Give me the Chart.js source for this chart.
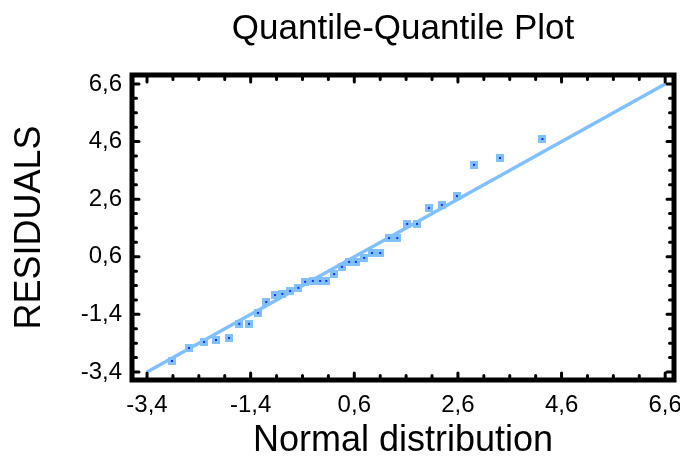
<!DOCTYPE html>
<html>
<head>
<meta charset="utf-8">
<script src="https://cdn.jsdelivr.net/npm/chart.js@4"></script>
<style>
  html, body { margin: 0; padding: 0; background: #fff; }
</style>
</head>
<body>
<canvas id="qqChart" width="680" height="459"></canvas>
<script>
// normal quantiles (x) and ordered residuals (y)
const normalQuantiles = [-2.92, -2.59, -2.30, -2.07, -1.82, -1.62, -1.43, -1.26, -1.10, -0.93,
  -0.79, -0.64, -0.48, -0.35, -0.20, -0.06, 0.06, 0.21, 0.36, 0.50,
  0.63, 0.79, 0.94, 1.10, 1.27, 1.43, 1.62, 1.81, 2.04, 2.29,
  2.58, 2.91, 3.41, 4.23];
const residuals = [-3.02, -2.57, -2.36, -2.29, -2.22, -1.73, -1.73, -1.35, -0.97, -0.73,
  -0.69, -0.59, -0.48, -0.27, -0.24, -0.24, -0.24, 0.00, 0.25, 0.42,
  0.42, 0.56, 0.73, 0.73, 1.25, 1.25, 1.74, 1.74, 2.29, 2.40,
  2.71, 3.79, 4.03, 4.69];
const refLine = [-3.4, 6.6];
const xTicks = [-3.4, -1.4, 0.6, 2.6, 4.6, 6.6];
const yTicks = [-3.4, -1.4, 0.6, 2.6, 4.6, 6.6];

const FONT = "'Liberation Sans', Arial, Helvetica, sans-serif";

function markerImage() {
  const c = document.createElement("canvas");
  c.width = 8;
  c.height = 8;
  const g = c.getContext("2d");
  g.fillStyle = "#80c0ff";
  g.fillRect(0, 0, 8, 8);
  g.fillStyle = "#1030ff";
  g.fillRect(3, 3, 2, 2);
  return c;
}

function fmt(v) {
  return (Math.round(v * 10) / 10).toFixed(1).replace(".", ",");
}

// thick frame with small inward tick marks on all four sides
const framePlugin = {
  id: "frame",
  afterDatasetsDraw(chart) {
    const { ctx, chartArea: a, scales } = chart;
    ctx.save();
    ctx.strokeStyle = "#000";
    ctx.lineWidth = 5;
    ctx.strokeRect(a.left, a.top, a.right - a.left, a.bottom - a.top);
    ctx.lineWidth = 3;
    ctx.lineCap = "round";
    for (let k = 0; k <= 20; k++) {
      const v = -3.4 + k * 0.5;
      const len = k % 4 === 0 ? 7 : 4.5;
      const px = scales.x.getPixelForValue(v);
      const py = scales.y.getPixelForValue(v);
      ctx.beginPath();
      ctx.moveTo(px, a.bottom); ctx.lineTo(px, a.bottom - len);
      ctx.moveTo(px, a.top); ctx.lineTo(px, a.top + len);
      ctx.moveTo(a.left, py); ctx.lineTo(a.left + len, py);
      ctx.moveTo(a.right, py); ctx.lineTo(a.right - len, py);
      ctx.stroke();
    }
    ctx.restore();
  },
};

const ctx = document.getElementById("qqChart").getContext("2d");

new Chart(ctx, {
  type: "scatter",
  data: {
    datasets: [
      {
        label: "Residuals",
        data: normalQuantiles.map((x, i) => ({ x: x, y: residuals[i] })),
        pointStyle: markerImage(),
        pointRadius: 4,
        order: 1,
      },
      {
        label: "Reference",
        data: refLine.map((v) => ({ x: v, y: v })),
        showLine: true,
        borderColor: "#80c0ff",
        borderWidth: 3.5,
        pointRadius: 0,
        order: 2,
      },
    ],
  },
  options: {
    responsive: false,
    animation: false,
    layout: { padding: { left: 0, right: 6, top: 0, bottom: 0 } },
    plugins: {
      legend: { display: false },
      tooltip: { enabled: false },
      title: {
        display: true,
        fullSize: false,
        text: "Quantile-Quantile Plot",
        color: "#000",
        font: { family: FONT, size: 35, weight: "normal", lineHeight: 1.2 },
        padding: { top: 8, bottom: 25 },
      },
    },
    scales: {
      x: {
        type: "linear",
        min: -3.69,
        max: 6.77,
        afterBuildTicks: (s) => { s.ticks = xTicks.map((v) => ({ value: v })); },
        afterFit: (s) => { s.height = 79; s.paddingLeft = 0; s.paddingRight = 0; },
        grid: { display: false, drawTicks: false },
        border: { display: false },
        ticks: {
          color: "#000",
          padding: 11,
          maxRotation: 0,
          font: { family: FONT, size: 24 },
          callback: (v) => fmt(v),
        },
        title: {
          display: true,
          text: "Normal distribution",
          color: "#000",
          font: { family: FONT, size: 36, lineHeight: 1 },
          padding: { top: 0, bottom: 0 },
        },
      },
      y: {
        type: "linear",
        min: -3.68,
        max: 6.91,
        afterBuildTicks: (s) => { s.ticks = yTicks.map((v) => ({ value: v })); },
        afterFit: (s) => { s.width = 132; },
        grid: { display: false, drawTicks: false },
        border: { display: false },
        ticks: {
          color: "#000",
          padding: 10,
          font: { family: FONT, size: 24 },
          callback: (v) => fmt(v),
        },
        title: {
          display: true,
          text: "RESIDUALS",
          color: "#000",
          font: { family: FONT, size: 36, lineHeight: 1 },
          padding: { top: 12, bottom: 0 },
        },
      },
    },
  },
  plugins: [framePlugin],
});
</script>
</body>
</html>
